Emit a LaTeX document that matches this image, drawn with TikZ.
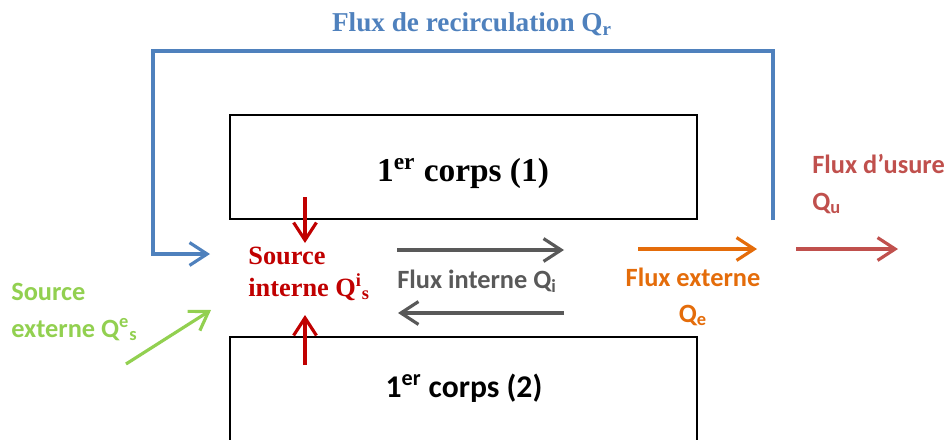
\documentclass[tikz,border=0pt]{standalone}
\usepackage{fontspec}
\setmainfont{Liberation Serif}
\newfontfamily\calibri{Carlito}
\usepackage{xcolor}
\usetikzlibrary{arrows.meta}

\definecolor{recblue}{HTML}{4F81BD}
\definecolor{srcred}{HTML}{C00000}
\definecolor{intgray}{HTML}{595959}
\definecolor{extorange}{HTML}{E46C0A}
\definecolor{usred}{HTML}{C0504D}
\definecolor{extgreen}{HTML}{92D050}

\begin{document}
\begin{tikzpicture}[x=0.02cm, y=-0.02cm,
  corps/.style={draw, rectangle, line width=1.2pt, minimum width=9.34cm, minimum height=2.08cm, inner sep=0pt},
  flux/.style={line width=1.8pt, -{Straight Barb[length=10pt,width=13pt]}},
  serlab/.style={font=\bfseries\fontsize{15}{18}\selectfont, inner sep=0pt},
  callab/.style={font=\calibri\bfseries\fontsize{15}{21}\selectfont, inner sep=0pt}]
\useasboundingbox (0,0) rectangle (945,439);

% Nodes
\node[corps] (corps1) at (463.5,167) {};
\node[corps] (corps2) at (463.5,389) {};
\node[anchor=base, inner sep=0pt, font=\bfseries\fontsize{19}{23}\selectfont] (nom1) at (463,181) {1\textsuperscript{er} corps (1)};
\node[anchor=base, inner sep=0pt, font=\calibri\bfseries\fontsize{18}{22}\selectfont] (nom2) at (464,397) {1\textsuperscript{er} corps (2)};

% Coordinates
\coordinate (rec1) at (773,220);
\coordinate (rec2) at (210,254);
\coordinate (in1) at (305,197);
\coordinate (in2) at (305,243);
\coordinate (in3) at (305,365);
\coordinate (in4) at (305,315);
\coordinate (qi1) at (397,250);
\coordinate (qi2) at (564,250);
\coordinate (qi3) at (564,313);
\coordinate (qi4) at (398,313);
\coordinate (qe1) at (638,249);
\coordinate (qe2) at (757,249);
\coordinate (qu1) at (796,249);
\coordinate (qu2) at (898,249);
\coordinate (qs1) at (126,364);
\coordinate (qs2) at (211,310);

% Arrows
\draw[flux, recblue] (rec1) |- (153,51) |- (rec2);
\draw[flux, srcred] (in1) -- (in2);
\draw[flux, srcred] (in3) -- (in4);
\draw[flux, intgray] (qi1) -- (qi2);
\draw[flux, intgray] (qi3) -- (qi4);
\draw[flux, extorange] (qe1) -- (qe2);
\draw[flux, usred] (qu1) -- (qu2);
\draw[flux, extgreen] (qs1) -- (qs2);

% Labels (multi-line nodes sit on their last baseline)
\node[serlab, recblue, anchor=base, font=\bfseries\fontsize{15.5}{18}\selectfont] (recirc) at (472,32) {Flux de recirculation Q\textsubscript{r}};
\node[serlab, srcred, align=left, anchor=base west] (srcint) at (248,296) {Source\\interne Q\textsuperscript{i}\textsubscript{s}};
\node[callab, extgreen, align=left, anchor=base west] (srcext) at (11,337) {Source\\externe Q\textsuperscript{e}\textsubscript{s}};
\node[callab, intgray, anchor=base west] (fluxint) at (397,288) {Flux interne Q\textsubscript{i}};
\node[callab, extorange, align=center, anchor=base, font=\calibri\bfseries\fontsize{15}{20}\selectfont] (fluxext) at (693,322) {Flux externe\\Q\textsubscript{e}};
\node[callab, usred, align=left, anchor=base west] (usure) at (812,210) {Flux d’usure\\Q\textsubscript{u}};
\end{tikzpicture}
\end{document}
